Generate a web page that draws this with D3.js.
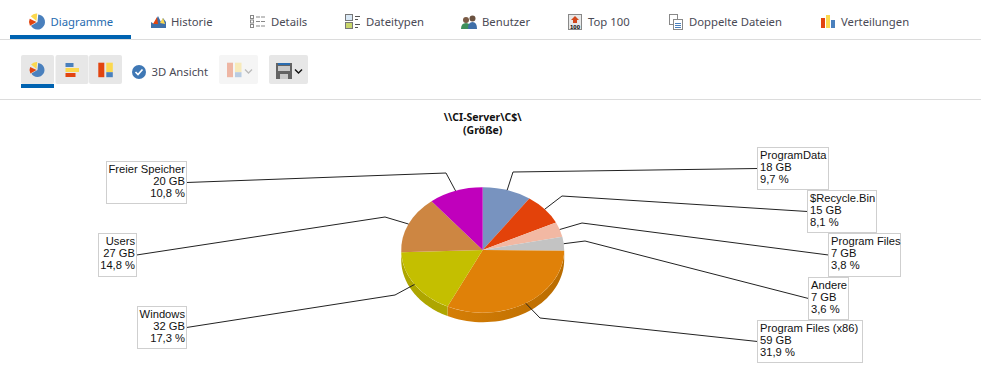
<!DOCTYPE html>
<html>
<head>
<meta charset="utf-8">
<script src="https://cdn.jsdelivr.net/npm/d3@7"></script>
<style>
  html, body { margin: 0; padding: 0; background: #fff; overflow: hidden; }
  svg { display: block; }
  .tab { font-family: "Noto Sans", sans-serif; font-size: 11.3px; fill: #4a4a55; }
  .lbl { font-family: "Liberation Sans", Arial, sans-serif; font-size: 11.2px; fill: #111; }
  .ttl { font-family: "Noto Sans", sans-serif; font-size: 10.5px; font-weight: bold; fill: #111; text-anchor: middle; }
</style>
</head>
<body>
<div id="chart"></div>
<script>
// chart values
var names = ["ProgramData", "$Recycle.Bin", "Program Files", "Andere", "Program Files (x86)", "Windows", "Users", "Freier Speicher"];
var sizes = ["18 GB", "15 GB", "7 GB", "7 GB", "59 GB", "32 GB", "27 GB", "20 GB"];
var percents = [9.7, 8.1, 3.8, 3.6, 31.9, 17.3, 14.8, 10.8];
var percentLabels = ["9,7 %", "8,1 %", "3,8 %", "3,6 %", "31,9 %", "17,3 %", "14,8 %", "10,8 %"];
var tabNames = ["Diagramme", "Historie", "Details", "Dateitypen", "Benutzer", "Top 100", "Doppelte Dateien", "Verteilungen"];
var titleLines = ["\\\\CI-Server\\C$\\", "(Größe)"];

// colours and layout, by slice
var colors = ["#7893bf", "#e3420a", "#f2b8a3", "#c3c3c3", "#e08108", "#c4bf00", "#cd8642", "#c000bc"];
var wallColors = ["#5f7597", "#b33408", "#c09282", "#9a9a9a", "#c87400", "#aea600", "#a36a34", "#980095"];
// box: x, y, w, h, text anchor side. elbow: x, y
var boxes = [
  {x: 757.5, y: 147.5, w: 71, h: 42, right: false, elbow: [513, 172]},
  {x: 807.5, y: 190.5, w: 69, h: 42, right: false, elbow: [562, 196]},
  {x: 828.5, y: 233.5, w: 72, h: 43, right: false, elbow: [582, 223]},
  {x: 808.5, y: 277.5, w: 40, h: 42, right: false, elbow: [585, 241]},
  {x: 757.5, y: 320.5, w: 105, h: 42, right: false, elbow: [540, 318]},
  {x: 137.5, y: 306.5, w: 49, h: 42, right: true, elbow: [395, 295]},
  {x: 98.5, y: 233.5, w: 38, h: 43, right: true, elbow: [385, 217]},
  {x: 106.5, y: 161.5, w: 80, h: 42, right: true, elbow: [446, 173]}
];
var tabX = [50.5, 171, 271, 366, 482, 588, 689, 841];
var iconX = [30, 151, 250, 345, 461, 568, 669, 821];

var WIDTH = 981, HEIGHT = 389;
var cx = 482.7, cy = 250, rx = 81.5, ry = 62.7, depth = 9.5;

var svg = d3.select("#chart").append("svg")
  .attr("width", WIDTH)
  .attr("height", HEIGHT);

var defs = svg.append("defs");

// ---- tab bar ----
svg.append("rect").attr("x", 0).attr("y", 39).attr("width", WIDTH).attr("height", 1).attr("fill", "#dcdcdc");
svg.append("rect").attr("x", 10).attr("y", 35).attr("width", 121).attr("height", 4).attr("fill", "#0063b1");
svg.append("rect").attr("x", 0).attr("y", 99).attr("width", WIDTH).attr("height", 1).attr("fill", "#dcdcdc");

svg.selectAll("text.tab")
  .data(tabNames)
  .enter()
  .append("text")
    .attr("class", "tab")
    .attr("x", function(d, i) {return tabX[i]})
    .attr("y", 25.5)
    .style("fill", function(d, i) {return i == 0 ? "#1f6bb0" : null})
    .text(function(d) {return d});

function rect(g, x, y, w, h, fill, stroke) {
  return g.append("rect").attr("x", x).attr("y", y).attr("width", w).attr("height", h)
    .attr("fill", fill).attr("stroke", stroke || "none").attr("stroke-width", stroke ? 1 : 0);
}

// small pie used by the tab and the toolbar
function pieIcon(x, y, r) {
  var g = svg.append("g").attr("transform", "translate(" + x + "," + y + ")");
  var arc = d3.arc().innerRadius(0).outerRadius(r);
  g.append("path").attr("d", arc({startAngle: 0.1, endAngle: 4.2})).attr("fill", "#4a80bd");
  g.append("path").attr("d", arc({startAngle: 4.2, endAngle: 5.15})).attr("fill", "#e2440f").attr("transform", "translate(-1,0)");
  g.append("path").attr("d", arc({startAngle: 5.4, endAngle: 6.38})).attr("fill", "#fbd84e").attr("transform", "translate(-1,-1)");
}

function barsIcon(x, y) {
  var g = svg.append("g").attr("transform", "translate(" + x + "," + y + ")");
  rect(g, 0, 0, 8, 4, "#4a80bd");
  rect(g, 0, 5, 13.5, 4, "#fbd84e");
  rect(g, 0, 10, 10, 4, "#e2440f");
}

function mapIcon(x, y, op) {
  var g = svg.append("g").attr("transform", "translate(" + x + "," + y + ")").attr("opacity", op);
  rect(g, 0, 0, 6, 14.5, "#e2440f");
  rect(g, 8, 0, 6.5, 9.5, "#fbd84e");
  rect(g, 8, 9.5, 6.5, 5, "#4a80bd");
}

function listIcon(x, y) {
  var g = svg.append("g").attr("transform", "translate(" + x + "," + y + ")");
  d3.range(3).forEach(function(i) {
    rect(g, 0.5, 0.5 + i * 4.5, 3, 3, "#fff", "#888");
    rect(g, 6, 1.5 + i * 4.5, 4, 1, "#888");
    rect(g, 11, 1.5 + i * 4.5, 4, 1, "#888");
  });
}

// tab icons
pieIcon(iconX[0] + 7.5, 22, 7.5);
var hist = svg.append("g").attr("transform", "translate(" + iconX[1] + ",15)");
hist.append("path").attr("d", "M0 13V7L3 9L7 1L10 7L12 3L15 7V13Z").attr("fill", "#3f6fa8");
hist.append("path").attr("d", "M2 9L6 2L7 9Z").attr("fill", "#e2440f");
hist.append("path").attr("d", "M9 8L12 3L14 9Z").attr("fill", "#fbd84e");
listIcon(iconX[2], 15);

var types = svg.append("g").attr("transform", "translate(" + iconX[3] + ",14)");
rect(types, 0.5, 0.5, 7, 6, "#d9e8f5", "#777");
rect(types, 0.5, 8.5, 7, 6, "#c9d66b", "#777");
rect(types, 10, 2, 5, 1, "#555");
rect(types, 10, 5, 3, 1, "#555");
rect(types, 10, 10, 5, 1, "#555");
rect(types, 10, 13, 3, 1, "#555");

var users = svg.append("g").attr("transform", "translate(" + iconX[4] + ",15)");
users.append("circle").attr("cx", 5).attr("cy", 5).attr("r", 3).attr("fill", "#7a5a44");
users.append("path").attr("d", "M0 14Q0 8 5 8Q10 8 10 14Z").attr("fill", "#3f8f5a");
users.append("circle").attr("cx", 11.5).attr("cy", 3.5).attr("r", 3).attr("fill", "#6b5240");
users.append("path").attr("d", "M7 14Q7 7 11.5 7Q16 7 16 14Z").attr("fill", "#3f6fa8");

var top100 = svg.append("g").attr("transform", "translate(" + iconX[5] + ",14)");
rect(top100, 0.5, 0.5, 13, 15, "#e8e8e8", "#888");
top100.append("path").attr("d", "M7 2L11 6H9V9H5V6H3Z").attr("fill", "#d2481c");
top100.append("text").attr("x", 7).attr("y", 14.5).attr("text-anchor", "middle")
  .style("font-family", "Liberation Sans").style("font-size", "6px").style("font-weight", "bold").text("100");

var dup = svg.append("g").attr("transform", "translate(" + iconX[6] + ",14)");
rect(dup, 0.5, 0.5, 8, 10, "#fff", "#888");
rect(dup, 4.5, 5.5, 9, 10, "#fff", "#888");
rect(dup, 6, 9, 6, 1, "#4a80bd");
rect(dup, 6, 11, 6, 1, "#4a80bd");
rect(dup, 6, 13, 6, 1, "#4a80bd");

var dist = svg.append("g").attr("transform", "translate(" + iconX[7] + ",15)");
rect(dist, 0, 3, 4, 10, "#e2440f");
rect(dist, 5, 0, 4, 13, "#fbd84e");
rect(dist, 10, 5, 4, 8, "#4a80bd");

// ---- toolbar ----
[[21, 33], [55.5, 33], [89, 33], [269, 39]].forEach(function(b) {
  rect(svg, b[0], 55, b[1], 29, "#e7e7e7").attr("rx", 2);
});
rect(svg, 219, 55, 39, 29, "#f5f5f5").attr("rx", 2);
rect(svg, 21, 84, 33, 4, "#0063b1");

pieIcon(37.5, 70, 7);
barsIcon(65.5, 63);
mapIcon(98.3, 62.7, 1);
mapIcon(227, 62.7, 0.35);

svg.append("circle").attr("cx", 139).attr("cy", 72).attr("r", 7).attr("fill", "#3f78b5");
svg.append("path").attr("d", "M135.5 72L138 74.5L142.5 69.5").attr("fill", "none").attr("stroke", "#fff").attr("stroke-width", 1.7);
svg.append("text").attr("class", "tab").attr("x", 151.5).attr("y", 76).text("3D Ansicht");

svg.append("path").attr("d", "M245 69.5L248.5 73L252 69.5").attr("fill", "none").attr("stroke", "#bbb").attr("stroke-width", 1.3);
var save = svg.append("g").attr("transform", "translate(276,63)");
save.append("path").attr("d", "M0 0H16V16H0Z").attr("fill", "#636363");
rect(save, 2, 0, 12, 2, "#2a6cb0");
rect(save, 2, 3, 12, 5, "#c9c9c9");
rect(save, 4, 11, 8, 5, "#c9c9c9");
svg.append("path").attr("d", "M295 69.5L298.5 73L302 69.5").attr("fill", "none").attr("stroke", "#111").attr("stroke-width", 1.4);

// ---- title ----
svg.selectAll("text.ttl")
  .data(titleLines)
  .enter()
  .append("text")
    .attr("class", "ttl")
    .attr("x", cx)
    .attr("y", function(d, i) {return 120.5 + i * 13})
    .text(function(d) {return d});

// ---- pie ----
var slices = d3.pie().sort(null)(percents);

function rimX(a) {return cx + rx * Math.sin(a)}
function rimY(a) {return cy - ry * Math.cos(a)}

var wall = defs.append("linearGradient").attr("id", "wallX86");
wall.append("stop").attr("offset", "0%").attr("stop-color", "#d67e06");
wall.append("stop").attr("offset", "100%").attr("stop-color", "#b96c00");

// side wall, only the front half of the rim can be seen
function wallPath(d) {
  var a0 = Math.max(d.startAngle, Math.PI / 2);
  var a1 = Math.min(d.endAngle, 3 * Math.PI / 2);
  if (a1 <= a0) return null;
  var p = d3.path();
  var steps = d3.range(0, 41).map(function(i) {return a0 + (a1 - a0) * i / 40});
  steps.forEach(function(a, i) {
    if (i == 0) p.moveTo(rimX(a), rimY(a));
    else p.lineTo(rimX(a), rimY(a));
  });
  steps.slice().reverse().forEach(function(a) {
    p.lineTo(rimX(a), rimY(a) + depth);
  });
  p.closePath();
  return p.toString();
}

svg.append("g").selectAll("path")
  .data(slices)
  .enter()
  .append("path")
    .attr("d", wallPath)
    .attr("fill", function(d, i) {return i == 4 ? "url(#wallX86)" : wallColors[i]});

var arc = d3.arc().innerRadius(0).outerRadius(rx);

svg.append("g")
  .attr("transform", "translate(" + cx + "," + cy + ") scale(1," + (ry / rx) + ")")
  .selectAll("path")
  .data(slices)
  .enter()
  .append("path")
    .attr("d", arc)
    .attr("fill", function(d, i) {return colors[i]});

// ---- leader lines ----
var line = d3.line();
svg.append("g").selectAll("path")
  .data(slices)
  .enter()
  .append("path")
    .attr("d", function(d, i) {
      var a = (d.startAngle + d.endAngle) / 2;
      var b = boxes[i];
      return line([
        [rimX(a), rimY(a)],
        b.elbow,
        [b.right ? b.x + b.w : b.x, b.y + b.h / 2]
      ]);
    })
    .attr("fill", "none")
    .attr("stroke", "#222")
    .attr("stroke-width", 1);

// ---- label boxes ----
var labels = svg.append("g").selectAll("g")
  .data(names)
  .enter()
  .append("g");

labels.append("rect")
  .attr("x", function(d, i) {return boxes[i].x})
  .attr("y", function(d, i) {return boxes[i].y})
  .attr("width", function(d, i) {return boxes[i].w})
  .attr("height", function(d, i) {return boxes[i].h})
  .attr("fill", "#fff")
  .attr("stroke", "#cfcfcf");

labels.each(function(d, i) {
  var b = boxes[i];
  d3.select(this).selectAll("text")
    .data([d, sizes[i], percentLabels[i]])
    .enter()
    .append("text")
      .attr("class", "lbl")
      .attr("x", b.right ? b.x + b.w - 1.5 : b.x + 2.5)
      .attr("y", function(t, j) {return b.y + 11.5 + j * 12})
      .attr("text-anchor", b.right ? "end" : "start")
      .text(function(t) {return t});
});
</script>
</body>
</html>
